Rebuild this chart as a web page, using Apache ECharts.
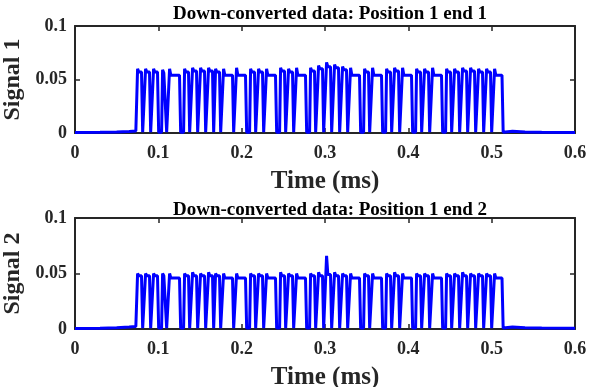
<!DOCTYPE html>
<html>
<head>
<meta charset="utf-8">
<script src="https://cdn.jsdelivr.net/npm/echarts@6/dist/echarts.min.js"></script>
<style>
  html, body { margin: 0; padding: 0; background: #fff; }
  #chart { width: 589px; height: 387px; }
</style>
</head>
<body>
<div id="chart"></div>
<script>
// Pulse edges (ms) of the down-converted burst, shared by both ends
const pulseOn = [
  0.0744, 0.0840, 0.0936, 0.1044, 0.1128, 0.1308, 0.1404, 0.1500, 0.1596, 0.1680,
  0.1776, 0.1932, 0.2100, 0.2196, 0.2292, 0.2460, 0.2556, 0.2652, 0.2820, 0.2916,
  0.3012, 0.3108, 0.3204, 0.3300, 0.3468, 0.3564, 0.3732, 0.3828, 0.3924, 0.4092,
  0.4188, 0.4284, 0.4452, 0.4548, 0.4644, 0.4740, 0.4836, 0.4932, 0.5028
];
const pulseOff = [
  0.0804, 0.0900, 0.0996, 0.1092, 0.1260, 0.1368, 0.1464, 0.1560, 0.1656, 0.1740,
  0.1896, 0.2052, 0.2160, 0.2256, 0.2412, 0.2520, 0.2616, 0.2772, 0.2880, 0.2976,
  0.3072, 0.3168, 0.3264, 0.3420, 0.3528, 0.3684, 0.3792, 0.3888, 0.4044, 0.4152,
  0.4248, 0.4404, 0.4512, 0.4608, 0.4704, 0.4800, 0.4896, 0.4992, 0.5130
];

// Peak (overshoot) and settled level of each pulse, end 1
const peak1 = [
  0.060, 0.060, 0.060, 0.059, 0.060, 0.060, 0.061, 0.061, 0.061, 0.060,
  0.060, 0.061, 0.060, 0.060, 0.060, 0.061, 0.060, 0.061, 0.061, 0.063,
  0.066, 0.064, 0.062, 0.061, 0.060, 0.061, 0.060, 0.061, 0.061, 0.060,
  0.060, 0.061, 0.060, 0.060, 0.061, 0.061, 0.060, 0.060, 0.060
];
const level1 = [
  0.057, 0.057, 0.057, 0.056, 0.054, 0.057, 0.058, 0.058, 0.058, 0.057,
  0.054, 0.054, 0.057, 0.057, 0.054, 0.058, 0.057, 0.054, 0.058, 0.060,
  0.062, 0.061, 0.059, 0.054, 0.057, 0.054, 0.057, 0.058, 0.054, 0.057,
  0.057, 0.054, 0.057, 0.057, 0.058, 0.058, 0.057, 0.057, 0.054
];

// Peak and settled level of each pulse, end 2
const peak2 = [
  0.050, 0.050, 0.050, 0.050, 0.050, 0.050, 0.051, 0.050, 0.051, 0.050,
  0.050, 0.050, 0.050, 0.050, 0.050, 0.051, 0.050, 0.050, 0.050, 0.051,
  0.066, 0.051, 0.050, 0.050, 0.050, 0.050, 0.050, 0.051, 0.050, 0.050,
  0.050, 0.050, 0.050, 0.050, 0.051, 0.050, 0.050, 0.050, 0.050
];
const level2 = [
  0.048, 0.048, 0.048, 0.048, 0.046, 0.048, 0.048, 0.048, 0.048, 0.048,
  0.046, 0.046, 0.048, 0.048, 0.046, 0.048, 0.048, 0.046, 0.048, 0.048,
  0.049, 0.048, 0.048, 0.046, 0.048, 0.046, 0.048, 0.048, 0.046, 0.048,
  0.048, 0.046, 0.048, 0.048, 0.048, 0.048, 0.048, 0.048, 0.046
];

// Quiet baseline before and after the burst: [time ms, value]
const leadIn1 = [[0, 0.0004], [0.03, 0.0006], [0.05, 0.0010], [0.065, 0.0014], [0.073, 0.0018]];
const tail1 = [[0.515, 0.0022], [0.525, 0.0016], [0.54, 0.0010], [0.56, 0.0007], [0.6, 0.0005]];
const leadIn2 = [[0, 0.0004], [0.03, 0.0006], [0.05, 0.0012], [0.065, 0.0017], [0.073, 0.0022]];
const tail2 = [[0.515, 0.0024], [0.525, 0.0018], [0.54, 0.0012], [0.56, 0.0008], [0.6, 0.0006]];

const xTicks = ['0', '0.1', '0.2', '0.3', '0.4', '0.5', '0.6'];
const yTicks = ['0', '0.05', '0.1'];
const titles = ['Down-converted data: Position 1 end 1', 'Down-converted data: Position 1 end 2'];
const yNames = ['Signal 1', 'Signal 2'];

// Build the polyline of one channel from its pulse table
function trace(leadIn, tail, peaks, levels) {
  const pts = leadIn.slice();
  const base = 0.0008;
  for (let i = 0; i < pulseOn.length; i++) {
    const on = pulseOn[i], off = pulseOff[i];
    pts.push([on - 0.0005, base]);
    pts.push([on + 0.0007, peaks[i]]);
    pts.push([on + 0.0022, levels[i]]);
    pts.push([off - 0.0006, levels[i]]);
    pts.push([off + 0.0008, base]);
  }
  return pts.concat(tail);
}

const fontFam = '"Liberation Serif", "Times New Roman", serif';
const axisColor = '#262626';

function fmt(list) {
  return function (v) {
    const idx = list.findIndex(t => Math.abs(parseFloat(t) - v) < 1e-9);
    return idx >= 0 ? list[idx] : '';
  };
}

const grids = [
  { left: 75, width: 500, top: 26, height: 107, containLabel: false, outerBoundsMode: 'none' },
  { left: 75, width: 500, top: 218, height: 111, containLabel: false, outerBoundsMode: 'none' }
];

const xAxes = [], yAxes = [];
grids.forEach((g, i) => {
  xAxes.push({
    type: 'value', gridIndex: i, min: 0, max: 0.6, interval: 0.1,
    name: 'Time (ms)', nameLocation: 'middle', nameGap: 36,
    nameTextStyle: { fontFamily: fontFam, fontWeight: 'bold', fontSize: 25, color: axisColor },
    axisLine: { show: true, onZero: false, lineStyle: { color: axisColor, width: 2 } },
    axisTick: { show: true, inside: true, length: 5, lineStyle: { color: axisColor, width: 1.5 } },
    axisLabel: { formatter: fmt(xTicks), fontFamily: fontFam, fontWeight: 'bold', fontSize: 18, color: axisColor, margin: 11 },
    splitLine: { show: false }
  });
  xAxes.push({
    type: 'value', gridIndex: i, min: 0, max: 0.6, interval: 0.1, position: 'top',
    axisLine: { show: true, onZero: false, lineStyle: { color: axisColor, width: 2 } },
    axisTick: { show: true, inside: true, length: 5, lineStyle: { color: axisColor, width: 1.5 } },
    axisLabel: { show: false }, splitLine: { show: false }
  });
  yAxes.push({
    type: 'value', gridIndex: i, min: 0, max: 0.1, interval: 0.05,
    name: yNames[i], nameLocation: 'middle', nameGap: 36,
    nameTextStyle: { fontFamily: fontFam, fontWeight: 'bold', fontSize: 24, color: axisColor },
    axisLine: { show: true, onZero: false, lineStyle: { color: axisColor, width: 2 } },
    axisTick: { show: true, inside: true, length: 5, lineStyle: { color: axisColor, width: 1.5 } },
    axisLabel: { formatter: fmt(yTicks), fontFamily: fontFam, fontWeight: 'bold', fontSize: 18, color: axisColor, margin: 8 },
    splitLine: { show: false }
  });
  yAxes.push({
    type: 'value', gridIndex: i, min: 0, max: 0.1, interval: 0.05, position: 'right',
    axisLine: { show: true, onZero: false, lineStyle: { color: axisColor, width: 2 } },
    axisTick: { show: true, inside: true, length: 5, lineStyle: { color: axisColor, width: 1.5 } },
    axisLabel: { show: false }, splitLine: { show: false }
  });
});

const chart = echarts.init(document.getElementById('chart'), null, { renderer: 'canvas' });
chart.setOption({
  backgroundColor: '#ffffff',
  animation: false,
  title: [
    { text: titles[0], left: 325, top: 0, textAlign: 'center',
      textStyle: { fontFamily: fontFam, fontWeight: 'bold', fontSize: 19, color: '#000' } },
    { text: titles[1], left: 325, top: 196, textAlign: 'center',
      textStyle: { fontFamily: fontFam, fontWeight: 'bold', fontSize: 19, color: '#000' } }
  ],
  grid: grids,
  xAxis: xAxes,
  yAxis: yAxes,
  series: [
    { type: 'line', xAxisIndex: 0, yAxisIndex: 0, showSymbol: false, clip: true,
      data: trace(leadIn1, tail1, peak1, level1),
      lineStyle: { color: '#0000ff', width: 3 } },
    { type: 'line', xAxisIndex: 2, yAxisIndex: 2, showSymbol: false, clip: true,
      data: trace(leadIn2, tail2, peak2, level2),
      lineStyle: { color: '#0000ff', width: 3 } }
  ]
});
</script>
</body>
</html>
